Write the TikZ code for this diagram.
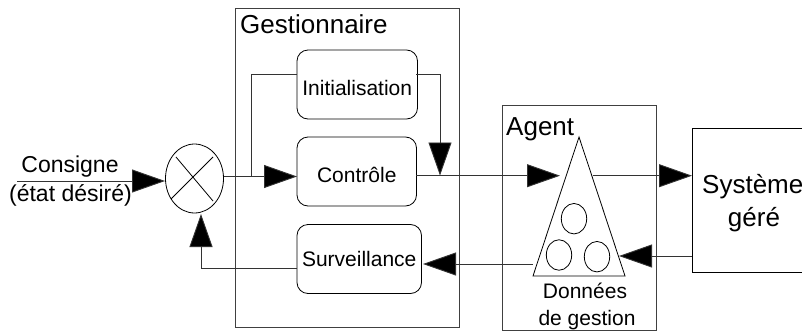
\documentclass[tikz,border=0pt]{standalone}
\usepackage{fontspec}
\setmainfont{Liberation Sans}
\usetikzlibrary{arrows.meta,shapes.geometric}
\tikzset{
  wire/.style={draw=black!80,line width=0.9pt},
  flow/.style={wire,-{Triangle[length=33pt,width=23pt,fill=black]}},
  frame/.style={draw=black!75,line width=1.1pt,rectangle,inner sep=0pt,anchor=north west},
  thin line/.style={draw=black,line width=0.8pt},
  stage/.style 2 args={draw=black,line width=0.8pt,rectangle,rounded corners=11pt,inner sep=0pt,
    minimum width=#1,minimum height=69pt,text height=#2,text depth=0pt,font=\fontsize{21}{21}\selectfont},
  big/.style={inner sep=0pt,anchor=base west,font=\fontsize{26}{26}\selectfont},
  mid/.style={inner sep=0pt,anchor=base,font=\fontsize{23}{23}\selectfont},
  small/.style={inner sep=0pt,anchor=base,font=\fontsize{21}{21}\selectfont},
  sysfont/.style={inner sep=0pt,font=\fontsize{26}{26}\selectfont},
  bead/.style={ellipse,draw=black,line width=0.8pt,inner sep=0pt,minimum width=25.4pt,minimum height=30.5pt},
}
\begin{document}
\begin{tikzpicture}[x=1pt,y=-1pt]
\useasboundingbox (0,0) rectangle (802,332);
% frames
\node[frame,minimum width=224pt,minimum height=319pt] (gest) at (235,8) {};
\node[frame,minimum width=154pt,minimum height=225.5pt] (agentbox) at (502,104.5) {};
\node[big] (gesttxt) at (240,33) {Gestionnaire};
\node[big] (agenttxt) at (506,135) {Agent};
% stages
\node[stage={120.5pt}{21pt}] (init) at (357.25,84.5) {Initialisation};
\node[stage={119.5pt}{22.4pt}] (ctrl) at (356.75,171.5) {Contrôle};
\node[stage={124.5pt}{14pt}] (surv) at (359.25,259) {Surveillance};
% comparator
\node[ellipse,draw=black,line width=0.8pt,inner sep=0pt,minimum width=58pt,minimum height=69pt] (sum) at (194.5,178.5) {};
\draw[thin line] (176,157) -- (213,201);
\draw[thin line] (171,199) -- (213,157);
% agent triangle
\coordinate (apex) at (579,137);
\coordinate (baseL) at (533,276);
\coordinate (baseR) at (625,276);
\draw[thin line,line join=miter] (apex) -- (baseL) -- (baseR) -- cycle;
\node[bead] (b1) at (574,218.7) {};
\node[bead] (b2) at (559,255) {};
\node[bead] (b3) at (597,256.7) {};
\node[small] (don) at (585,298) {Données};
\node[small] (degest) at (587,325) {de gestion};
% managed system (right side lies at the picture edge)
\coordinate (sysNE) at (812,128);
\coordinate (sysNW) at (692.3,128);
\coordinate (sysSW) at (692.3,272.7);
\coordinate (sysSE) at (812,272.7);
\draw[thin line] (sysNE) -- (sysNW) -- (sysSW) -- (sysSE);
\node[sysfont,anchor=base west] (systxt) at (702,193) {Système};
\node[sysfont,anchor=base] (geretxt) at (754,226) {géré};
% input
\node[mid] (cons) at (70,172.7) {Consigne};
\node[mid] (etat) at (70.5,201.5) {(état désiré)};
\coordinate (inStart) at (17,181);
\coordinate (inEnd) at (165,181);
\draw[flow] (inStart) -- (inEnd);
% connector ends
\coordinate (sumOut) at (224,176.5);
\coordinate (ctrlIn) at (297,176.5);
\coordinate (branch) at (251,176.5);
\coordinate (initL) at (297,74.5);
\coordinate (initR) at (416,74.5);
\coordinate (drop) at (440,74.5);
\coordinate (dropEnd) at (440,175.5);
\coordinate (ctrlOut) at (416,175.7);
\coordinate (triIn) at (560,175.7);
\coordinate (triOut) at (593,175.7);
\coordinate (sysIn) at (692,175.7);
\coordinate (sysOut) at (692,256);
\coordinate (triRet) at (619,256);
\coordinate (triLeft) at (533,264);
\coordinate (survIn) at (423,264);
\coordinate (survOut) at (297,268);
\coordinate (corner) at (201,268);
\coordinate (sumIn) at (201,214);
\draw[flow] (sumOut) -- (ctrlIn);
\draw[wire] (branch) -- (branch |- initL) -- (initL);
\draw[flow] (initR) -- (drop) -- (dropEnd);
\draw[flow] (ctrlOut) -- (triIn);
\draw[flow] (triOut) -- (sysIn);
\draw[flow] (sysOut) -- (triRet);
\draw[flow] (triLeft) -- (survIn);
\draw[flow] (survOut) -- (corner) -- (sumIn);
\end{tikzpicture}
\end{document}
